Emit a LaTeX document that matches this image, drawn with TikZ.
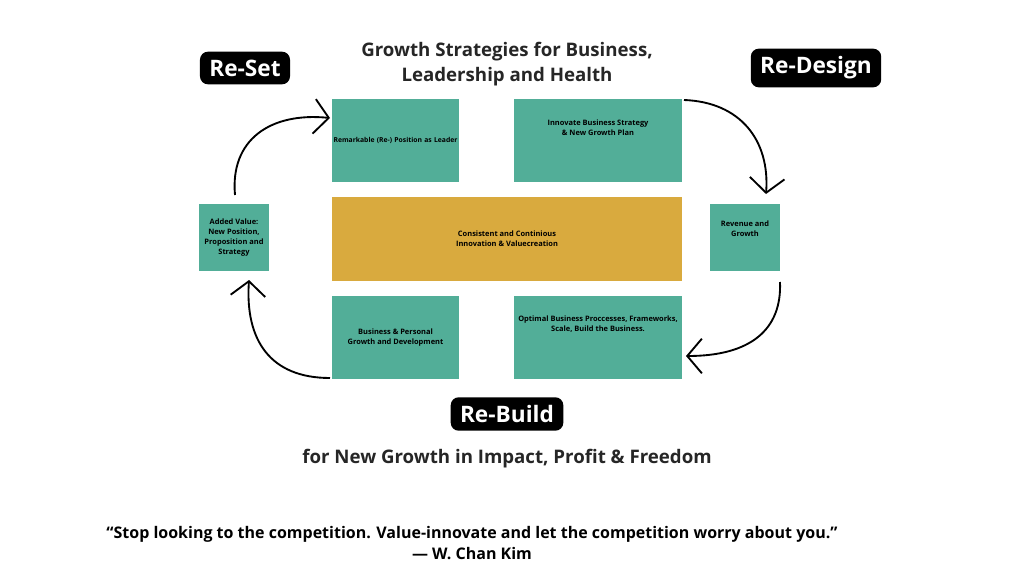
\documentclass[tikz,border=0pt]{standalone}
\usepackage{fontspec}
\setmainfont{Open Sans}
\usetikzlibrary{arrows.meta}
\definecolor{teal}{HTML}{52AE98}
\definecolor{gold}{HTML}{D9AA3E}
\begin{document}
\begin{tikzpicture}[x=0.75pt,y=-0.75pt,
  box/.style={fill=teal,draw=none,inner sep=0pt,align=center,font=\fontsize{5.6}{7.5}\selectfont\bfseries},
  tag/.style={fill=black,text=white,rounded corners=6pt,font=\fontsize{17}{20}\selectfont\bfseries,inner xsep=7pt,inner ysep=6pt},
  arr/.style={line width=1.4pt,-{Straight Barb[length=11pt,width=26pt,line width=1.4pt]}}]
\useasboundingbox (0,0) rectangle (1024,588);
\fill[white] (0,0) rectangle (1024,588);
\node[box,text width=127*0.75pt,minimum height=83*0.75pt,font=\fontsize{5.1}{7.5}\selectfont\bfseries] (tl) at (395.5,140.5) {Remarkable (Re-) Position as Leader};
\node[box,minimum width=168*0.75pt,minimum height=83*0.75pt,anchor=center] (tr) at (598,140.5) {Innovate Business Strategy\\ \& New Growth Plan\\[12pt]};
\node[box,fill=gold,minimum width=350*0.75pt,minimum height=84*0.75pt] (mid) at (507,239) {Consistent and Continious\\ Innovation \& Valuecreation};
\node[box,minimum width=127*0.75pt,minimum height=83*0.75pt] (bl) at (395.5,337.5) {Business \& Personal\\ Growth and Development};
\node[box,minimum width=168*0.75pt,minimum height=83*0.75pt] (br) at (598,337.5) {Optimal Business Proccesses, Frameworks,\\ Scale, Build the Business.\\[14pt]};
\node[box,minimum width=70*0.75pt,minimum height=67*0.75pt] (lb) at (234,237.5) {Added Value:\\ New Position,\\ Proposition and\\ Strategy};
\node[box,minimum width=70*0.75pt,minimum height=67*0.75pt] (rb) at (745,237.5) {Revenue and\\ Growth\\[6pt]};
\node[tag] (reset) at (245,68) {Re-Set};
\node[tag] (redesign) at (816,68) {Re-Design};
\node[tag] (rebuild) at (507,414) {Re-Build};
\node[font=\fontsize{14}{19}\selectfont\bfseries\color{black!85},align=center] (title) at (507,64) {Growth Strategies for Business,\\ Leadership and Health};
\node[font=\fontsize{14}{15}\selectfont\bfseries\color{black!85}] (sub) at (507,459) {for New Growth in Impact, Profit \& Freedom};
\node[font=\fontsize{12}{16}\selectfont\bfseries,align=center] (quote) at (472,543) {“Stop looking to the competition. Value-innovate and let the competition worry about you.”\\ — W. Chan Kim};
\coordinate (a1) at (235,195); \coordinate (a2) at (330,118);
\draw[arr] (a1) .. controls (230,140) and (270,112) .. (a2);
\coordinate (b1) at (684,100); \coordinate (b2) at (766,194);
\draw[arr] (b1) .. controls (740,102) and (770,140) .. (b2);
\coordinate (c1) at (780,282); \coordinate (c2) at (686,356);
\draw[arr] (c1) .. controls (782,330) and (750,356) .. (c2);
\coordinate (d1) at (330,378); \coordinate (d2) at (249,280);
\draw[arr] (d1) .. controls (270,378) and (245,340) .. (d2);
\end{tikzpicture}
\end{document}
